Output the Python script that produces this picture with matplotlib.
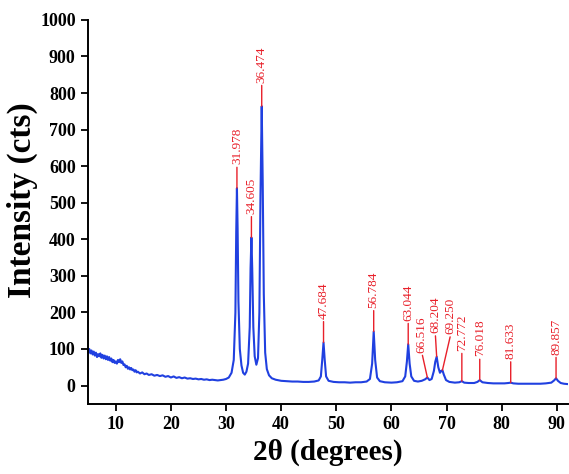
import matplotlib
matplotlib.use("Agg")
import matplotlib.pyplot as plt

# ---- data ----
two_theta = [5.0, 5.2, 5.4, 5.6, 5.8, 6.0, 6.2, 6.4, 6.6, 6.8, 7.0, 7.2, 7.4, 7.6, 7.8, 8.0,
             8.2, 8.4, 8.6, 8.8, 9.0, 9.2, 9.4, 9.6, 9.8, 10.0, 10.2, 10.4, 10.6, 10.8, 11.0,
             11.2, 11.4, 11.6, 11.8, 12.0, 12.2, 12.4, 12.6, 12.8, 13.0, 13.2, 13.4, 13.6,
             13.8, 14.0, 14.4, 14.8, 15.2, 15.6, 16.0, 16.5, 17.0, 17.5, 18.0, 18.5, 19.0,
             19.5, 20.0, 20.5, 21.0, 21.5, 22.0, 22.5, 23.0, 23.5, 24.0, 24.5, 25.0, 25.5,
             26.0, 26.5, 27.0, 27.5, 28.0, 28.5, 29.0, 29.5, 30.0, 30.5, 31.0, 31.4, 31.7,
             31.85, 31.978, 32.1, 32.25, 32.5, 32.8, 33.1, 33.4, 33.7, 34.0, 34.3, 34.45,
             34.605, 34.75, 34.95, 35.2, 35.5, 35.8, 36.05, 36.25, 36.474, 36.65, 36.85,
             37.1, 37.4, 37.8, 38.3, 39.0, 40.0, 41.0, 42.0, 43.0, 44.0, 45.0, 46.0, 46.8,
             47.2, 47.45, 47.684, 47.9, 48.15, 48.6, 49.5, 50.5, 51.5, 52.5, 53.5, 54.5,
             55.5, 56.1, 56.5, 56.784, 57.05, 57.4, 57.9, 58.8, 60.0, 61.0, 62.0, 62.5,
             62.8, 63.044, 63.3, 63.6, 64.1, 64.8, 65.5, 66.1, 66.516, 66.9, 67.3, 67.7,
             67.95, 68.204, 68.5, 68.8, 69.05, 69.25, 69.5, 69.9, 70.5, 71.5, 72.3, 72.772,
             73.2, 74.0, 75.0, 75.6, 76.018, 76.5, 77.5, 78.5, 79.5, 80.5, 81.2, 81.633,
             82.1, 83.0, 84.0, 85.0, 86.0, 87.0, 88.0, 89.0, 89.5, 89.857, 90.2, 90.7,
             91.3, 92.0]
intensity = [92, 100, 88, 96, 85, 93, 82, 90, 78, 86, 80, 88, 76, 84, 74, 82,
             72, 80, 70, 78, 68, 74, 64, 70, 62, 66, 60, 70, 64, 72, 62,
             66, 56, 58, 50, 54, 46, 50, 44, 48, 42, 44, 38, 42,
             36, 38, 33, 36, 31, 33, 29, 31, 27, 29, 26, 28, 24,
             26, 22, 25, 21, 23, 20, 22, 19, 20, 18, 19, 17, 18,
             16, 17, 15, 16, 15, 14, 15, 16, 18, 22, 35, 70, 200,
             420, 540, 430, 230, 100, 55, 35, 30, 38, 60, 160, 320,
             405, 320, 160, 80, 57, 75, 200, 520, 764, 560, 250,
             90, 45, 28, 20, 16, 13, 12, 11, 11, 10, 10, 11, 14,
             25, 70, 118, 70, 25, 13, 10, 9, 9, 8, 9, 9,
             11, 18, 60, 148, 70, 22, 12, 9, 8, 9, 12, 25,
             65, 113, 60, 25, 13, 11, 13, 17, 22, 15, 18, 40,
             65, 79, 50, 35, 40, 42, 30, 15, 10, 8, 9, 12,
             8, 7, 7, 10, 15, 9, 7, 6, 6, 6, 7, 8,
             6, 5, 5, 5, 5, 5, 6, 8, 14, 20, 13, 7,
             5, 4]

peak_positions = [31.978, 34.605, 36.474, 47.684, 56.784, 63.044, 66.516,
                  68.204, 69.250, 72.772, 76.018, 81.633, 89.857]
peak_heights = [540, 405, 764, 118, 148, 113, 22, 79, 42, 12, 15, 8, 20]

x_ticks = [10, 20, 30, 40, 50, 60, 70, 80, 90]
y_ticks = [0, 100, 200, 300, 400, 500, 600, 700, 800, 900, 1000]

# label offsets (points) : style only
label_dx = {66.516: -4, 68.204: -1, 69.250: 6}
label_dy = {69.250: 26, 72.772: 22, 66.516: 18}

plt.rcParams['font.family'] = ['Liberation Serif', 'DejaVu Serif']

fig = plt.figure(figsize=(5.69, 4.74), dpi=100)
ax = fig.add_axes([0.155, 0.148, 0.843, 0.81])

blue = '#2040e0'
red = '#e8202a'
ax.plot(two_theta, intensity, color=blue, lw=1.5)

for p, h in zip(peak_positions, peak_heights):
    dx = label_dx.get(p, 0)
    dy = label_dy.get(p, 17)
    ax.annotate(f"{p:.3f}", xy=(p, h), xytext=(dx, dy), textcoords='offset points',
                rotation=90, ha='center', va='bottom', color=red, fontsize=9.5,
                arrowprops=dict(arrowstyle='-', color=red, lw=1.0,
                                shrinkA=0, shrinkB=0, relpos=(0.5, 0.0)))

ax.set_xlim(5, 92)
ax.set_ylim(-50, 1000)
ax.set_xticks(x_ticks)
ax.set_yticks(y_ticks)
for s in ['top', 'right']:
    ax.spines[s].set_visible(False)
for s in ['left', 'bottom']:
    ax.spines[s].set_linewidth(1.4)
ax.tick_params(direction='out', length=5, width=1.3, labelsize=13, pad=4)
for lab in ax.get_xticklabels() + ax.get_yticklabels():
    lab.set_fontweight('bold')

ax.set_xlabel('2θ (degrees)', fontsize=21, fontweight='bold', labelpad=4)
ax.set_ylabel('Intensity (cts)', fontsize=24, fontweight='bold')
ax.yaxis.set_label_coords(-0.104, 0.53)

fig.savefig('out.png', dpi=100)
